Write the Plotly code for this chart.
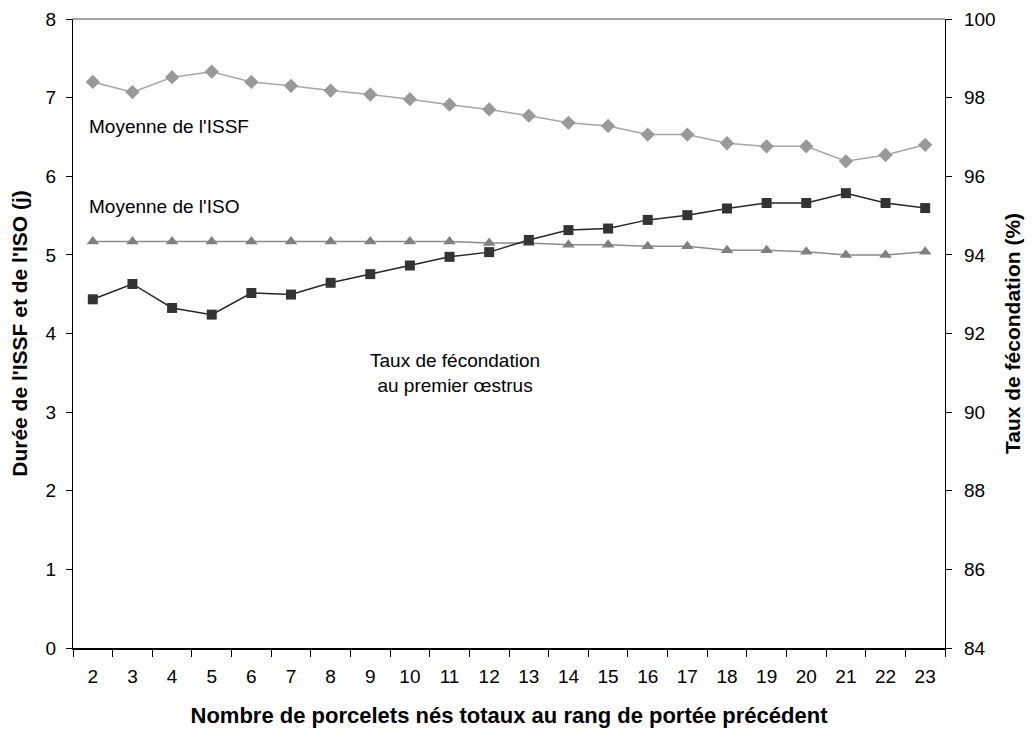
import plotly.graph_objects as go

categories = [str(c) for c in range(2, 24)]
issf = [7.20, 7.07, 7.26, 7.33, 7.20, 7.15, 7.09, 7.04, 6.98, 6.91, 6.85, 6.77,
        6.68, 6.64, 6.53, 6.53, 6.42, 6.38, 6.38, 6.19, 6.27, 6.40]
iso = [5.17, 5.17, 5.17, 5.17, 5.17, 5.17, 5.17, 5.17, 5.17, 5.17, 5.15, 5.15,
       5.13, 5.13, 5.11, 5.11, 5.06, 5.06, 5.04, 5.00, 5.00, 5.04]
fecond = [92.87, 93.26, 92.65, 92.48, 93.03, 92.99, 93.29, 93.51, 93.73, 93.95, 94.07, 94.38,
          94.63, 94.67, 94.89, 95.01, 95.18, 95.32, 95.32, 95.57, 95.32, 95.19]

FONT = "Liberation Sans, Arial, sans-serif"
TICK = 19
TITLE = 21

fig = go.Figure()
fig.add_trace(go.Scatter(x=categories, y=issf, mode="lines+markers", name="ISSF",
                         line=dict(color="#a6a6a6", width=1.5),
                         marker=dict(symbol="diamond", size=11, color="#999999")))
fig.add_trace(go.Scatter(x=categories, y=iso, mode="lines+markers", name="ISO",
                         line=dict(color="#8c8c8c", width=1.5),
                         marker=dict(symbol="triangle-up", size=11, color="#808080")))
fig.add_trace(go.Scatter(x=categories, y=fecond, mode="lines+markers", name="Fécondation",
                         yaxis="y2",
                         line=dict(color="#262626", width=1.5),
                         marker=dict(symbol="square", size=10, color="#333333")))

fig.update_layout(
    width=1026, height=723,
    margin=dict(l=65, r=89, t=11, b=83),
    paper_bgcolor="white", plot_bgcolor="white",
    showlegend=False,
    font=dict(family=FONT, size=TICK, color="black"),
    xaxis=dict(type="category", range=[-0.5, 21.5], automargin=False,
               showline=True, linecolor="black", linewidth=1.5,
               ticks="outside", tickson="boundaries", ticklen=7,
               tickcolor="black", showgrid=False, zeroline=False,
               tickfont=dict(size=TICK), ticklabelstandoff=10,
               title=dict(text="<b>Nombre de porcelets nés totaux au rang de portée précédent</b>",
                          font=dict(size=22), standoff=22)),
    yaxis=dict(range=[0, 8], dtick=1, automargin=False, showline=True,
               linecolor="black", linewidth=1.2,
               ticks="outside", ticklen=6, tickcolor="black", showgrid=False,
               zeroline=False, tickfont=dict(size=TICK), ticklabelstandoff=6,
               title=dict(text="<b>Durée de l'ISSF et de l'ISO (j)</b>", font=dict(size=TITLE),
                          standoff=12)),
    yaxis2=dict(range=[84, 100], dtick=2, overlaying="y", side="right", automargin=False,
                showline=True, linecolor="black", linewidth=1.2, ticks="outside", ticklen=6,
                tickcolor="black", showgrid=False, zeroline=False, tickfont=dict(size=TICK),
                ticklabelstandoff=8,
                title=dict(text="<b>Taux de fécondation (%)</b>", font=dict(size=TITLE),
                           standoff=10)),
    shapes=[dict(type="line", xref="paper", yref="paper", x0=0, x1=1, y0=1, y1=1,
                 line=dict(color="#808080", width=1.5))],
    annotations=[
        dict(text="Moyenne de l'ISSF", x=-0.5, y=6.63, xref="x", yref="y",
             xanchor="left", xshift=14, showarrow=False, font=dict(size=TICK)),
        dict(text="Moyenne de l'ISO", x=-0.5, y=5.61, xref="x", yref="y",
             xanchor="left", xshift=14, showarrow=False, font=dict(size=TICK)),
        dict(text="Taux de fécondation<br>au premier œstrus", x=9.14, y=3.5, xref="x", yref="y",
             xanchor="center", showarrow=False, font=dict(size=TICK)),
    ],
)

fig.write_html("out.html")
